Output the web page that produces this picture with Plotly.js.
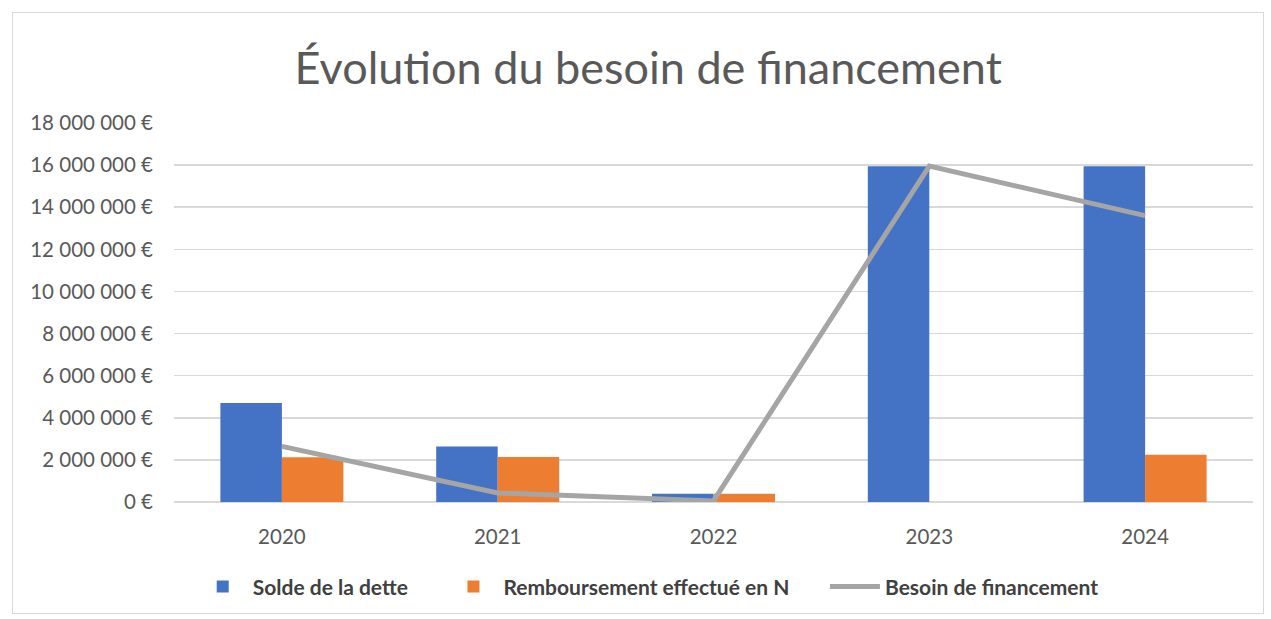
<!DOCTYPE html>
<html>
<head>
<meta charset="utf-8">
<script src="https://cdn.plot.ly/plotly-3.0.1.min.js"></script>
<style>
  body { margin: 0; background: #fff; }
  #frame { position: absolute; left: 12px; top: 12px; width: 1250px; height: 600px; border: 1px solid #d9d9d9; }
  #chart { position: absolute; left: 0; top: 0; width: 1271px; height: 619px; }
</style>
</head>
<body>
<div id="frame"></div>
<div id="chart"></div>
<script>
// years on the x axis
const years = ['2020', '2021', '2022', '2023', '2024'];

// values, in euros
const soldeDette = [4700000, 2640000, 390000, 15950000, 15950000];
const remboursement = [2120000, 2140000, 390000, 0, 2250000];
const besoinFinancement = [2640000, 430000, 50000, 15950000, 13600000];

const fontFamily = 'Lato, "Open Sans", sans-serif';
const pad = '\u00a0\u00a0\u00a0\u00a0\u00a0\u00a0'; // extra room between legend entries

const traces = [
    {
        x: years, y: soldeDette, type: 'bar', name: 'Solde de la dette' + pad,
        marker: { color: '#4472c4' }
    },
    {
        x: years, y: remboursement, type: 'bar', name: 'Remboursement effectué en N' + pad,
        marker: { color: '#ed7d31' }
    },
    {
        x: years, y: besoinFinancement, type: 'scatter', mode: 'lines', name: 'Besoin de financement',
        line: { color: '#a5a5a5', width: 5 }
    }
];

const layout = {
    width: 1271,
    height: 619,
    margin: { l: 174, r: 18, t: 123, b: 117, autoexpand: false },
    paper_bgcolor: 'rgba(0,0,0,0)',
    plot_bgcolor: 'rgba(0,0,0,0)',
    font: { family: fontFamily, color: '#595959', size: 20 },
    separators: ', ',
    title: {
        text: 'Évolution du besoin de financement',
        font: { family: fontFamily, size: 45, color: '#595959' },
        x: 0.51, xanchor: 'center', y: 0.89, yanchor: 'middle'
    },
    barmode: 'group',
    bargap: 0.43,
    bargroupgap: 0,
    xaxis: {
        type: 'category',
        showgrid: false,
        showline: false,
        ticks: '',
        ticklabelstandoff: 20,
        tickfont: { size: 20.5, color: '#595959' }
    },
    yaxis: {
        range: [0, 18000000],
        dtick: 2000000,
        tickformat: ',.0f',
        ticksuffix: ' €',
        gridcolor: '#d9d9d9',
        gridwidth: 1.5,
        zeroline: true,
        zerolinecolor: '#d9d9d9',
        zerolinewidth: 1.5,
        ticks: '',
        ticklen: 0,
        ticklabelstandoff: 20,
        tickfont: { size: 20.5, color: '#595959' }
    },
    showlegend: true,
    legend: {
        orientation: 'h',
        x: 0.51, xanchor: 'center', xref: 'container',
        y: 0.052, yanchor: 'middle', yref: 'container',
        font: { size: 21, color: '#404040', weight: 'bold' },
        itemwidth: 50,
        tracegroupgap: 0
    }
};

Plotly.newPlot('chart', traces, layout, { displayModeBar: false, staticPlot: true });
</script>
</body>
</html>
